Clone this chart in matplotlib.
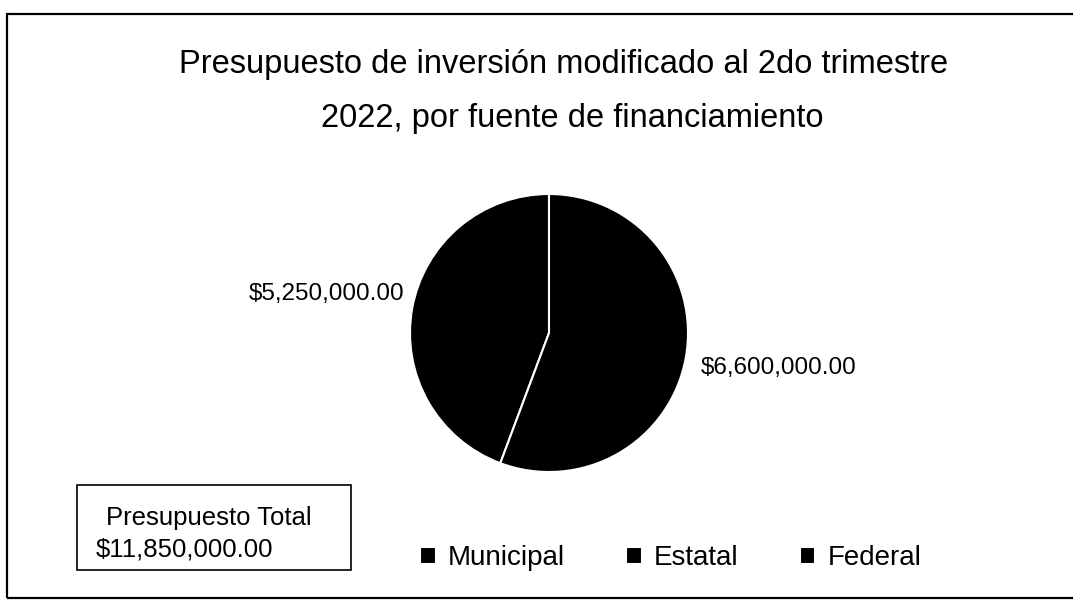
import matplotlib
matplotlib.use("Agg")
import matplotlib.pyplot as plt
from matplotlib.patches import Rectangle

plt.rcParams['font.family'] = ['Liberation Sans', 'DejaVu Sans']

# Data
categories = ["Municipal", "Estatal", "Federal"]
values = [0, 5250000, 6600000]
title_lines = ["Presupuesto de inversión modificado al 2do trimestre",
               "2022, por fuente de financiamiento"]
colors = ["black", "black", "black"]

W, H = 1073, 607
fig = plt.figure(figsize=(W / 100, H / 100), dpi=100)

# outer frame of the scanned chart
fig.add_artist(Rectangle((7 / W, 1 - 598 / H), 1.1, (598 - 14) / H,
                         transform=fig.transFigure, fill=False,
                         edgecolor="black", linewidth=1.6))

# title (two lines)
fig.text(564 / W, 1 - 73 / H, title_lines[0], ha="center", va="baseline",
         fontsize=23.5)
fig.text(572 / W, 1 - 127 / H, title_lines[1], ha="center", va="baseline",
         fontsize=23.5)

# pie: center (549, 333), radius 139 px
cx, cy, r = 549, 333, 139
ax = fig.add_axes([(cx - r) / W, 1 - (cy + r) / H, 2 * r / W, 2 * r / H])
labels = ["${:,.2f}".format(v) if v > 0 else "" for v in values]
wedges, texts = ax.pie(values, labels=labels, colors=colors,
                       startangle=90, counterclock=True,
                       labeldistance=1.06,
                       wedgeprops=dict(edgecolor="white", linewidth=1.5),
                       textprops=dict(fontsize=17.5))
# nudge the outside labels a little, as in the original
x, y = texts[1].get_position()
texts[1].set_position((x, y + 0.09))
x, y = texts[2].get_position()
texts[2].set_position((x + 0.05, y - 0.06))
ax.set_xlim(-1, 1)
ax.set_ylim(-1, 1)
ax.set_aspect("equal")

# legend
fig.legend(wedges, categories, loc="center", ncol=3, frameon=False,
           bbox_to_anchor=(671 / W, 1 - 558 / H), fontsize=20,
           handlelength=0.55, handleheight=0.55, handletextpad=0.45,
           columnspacing=2.2)

# total box
fig.add_artist(Rectangle((77 / W, 1 - 570 / H), (351 - 77) / W, (570 - 485) / H,
                         transform=fig.transFigure, fill=False,
                         edgecolor="black", linewidth=1.2))
total = sum(values)
fig.text(106 / W, 1 - 518 / H, "Presupuesto Total", ha="left", va="center",
         fontsize=18.5)
fig.text(96 / W, 1 - 550 / H, "${:,.2f}".format(total), ha="left", va="center",
         fontsize=18.5)

fig.savefig("out.png", dpi=100)
